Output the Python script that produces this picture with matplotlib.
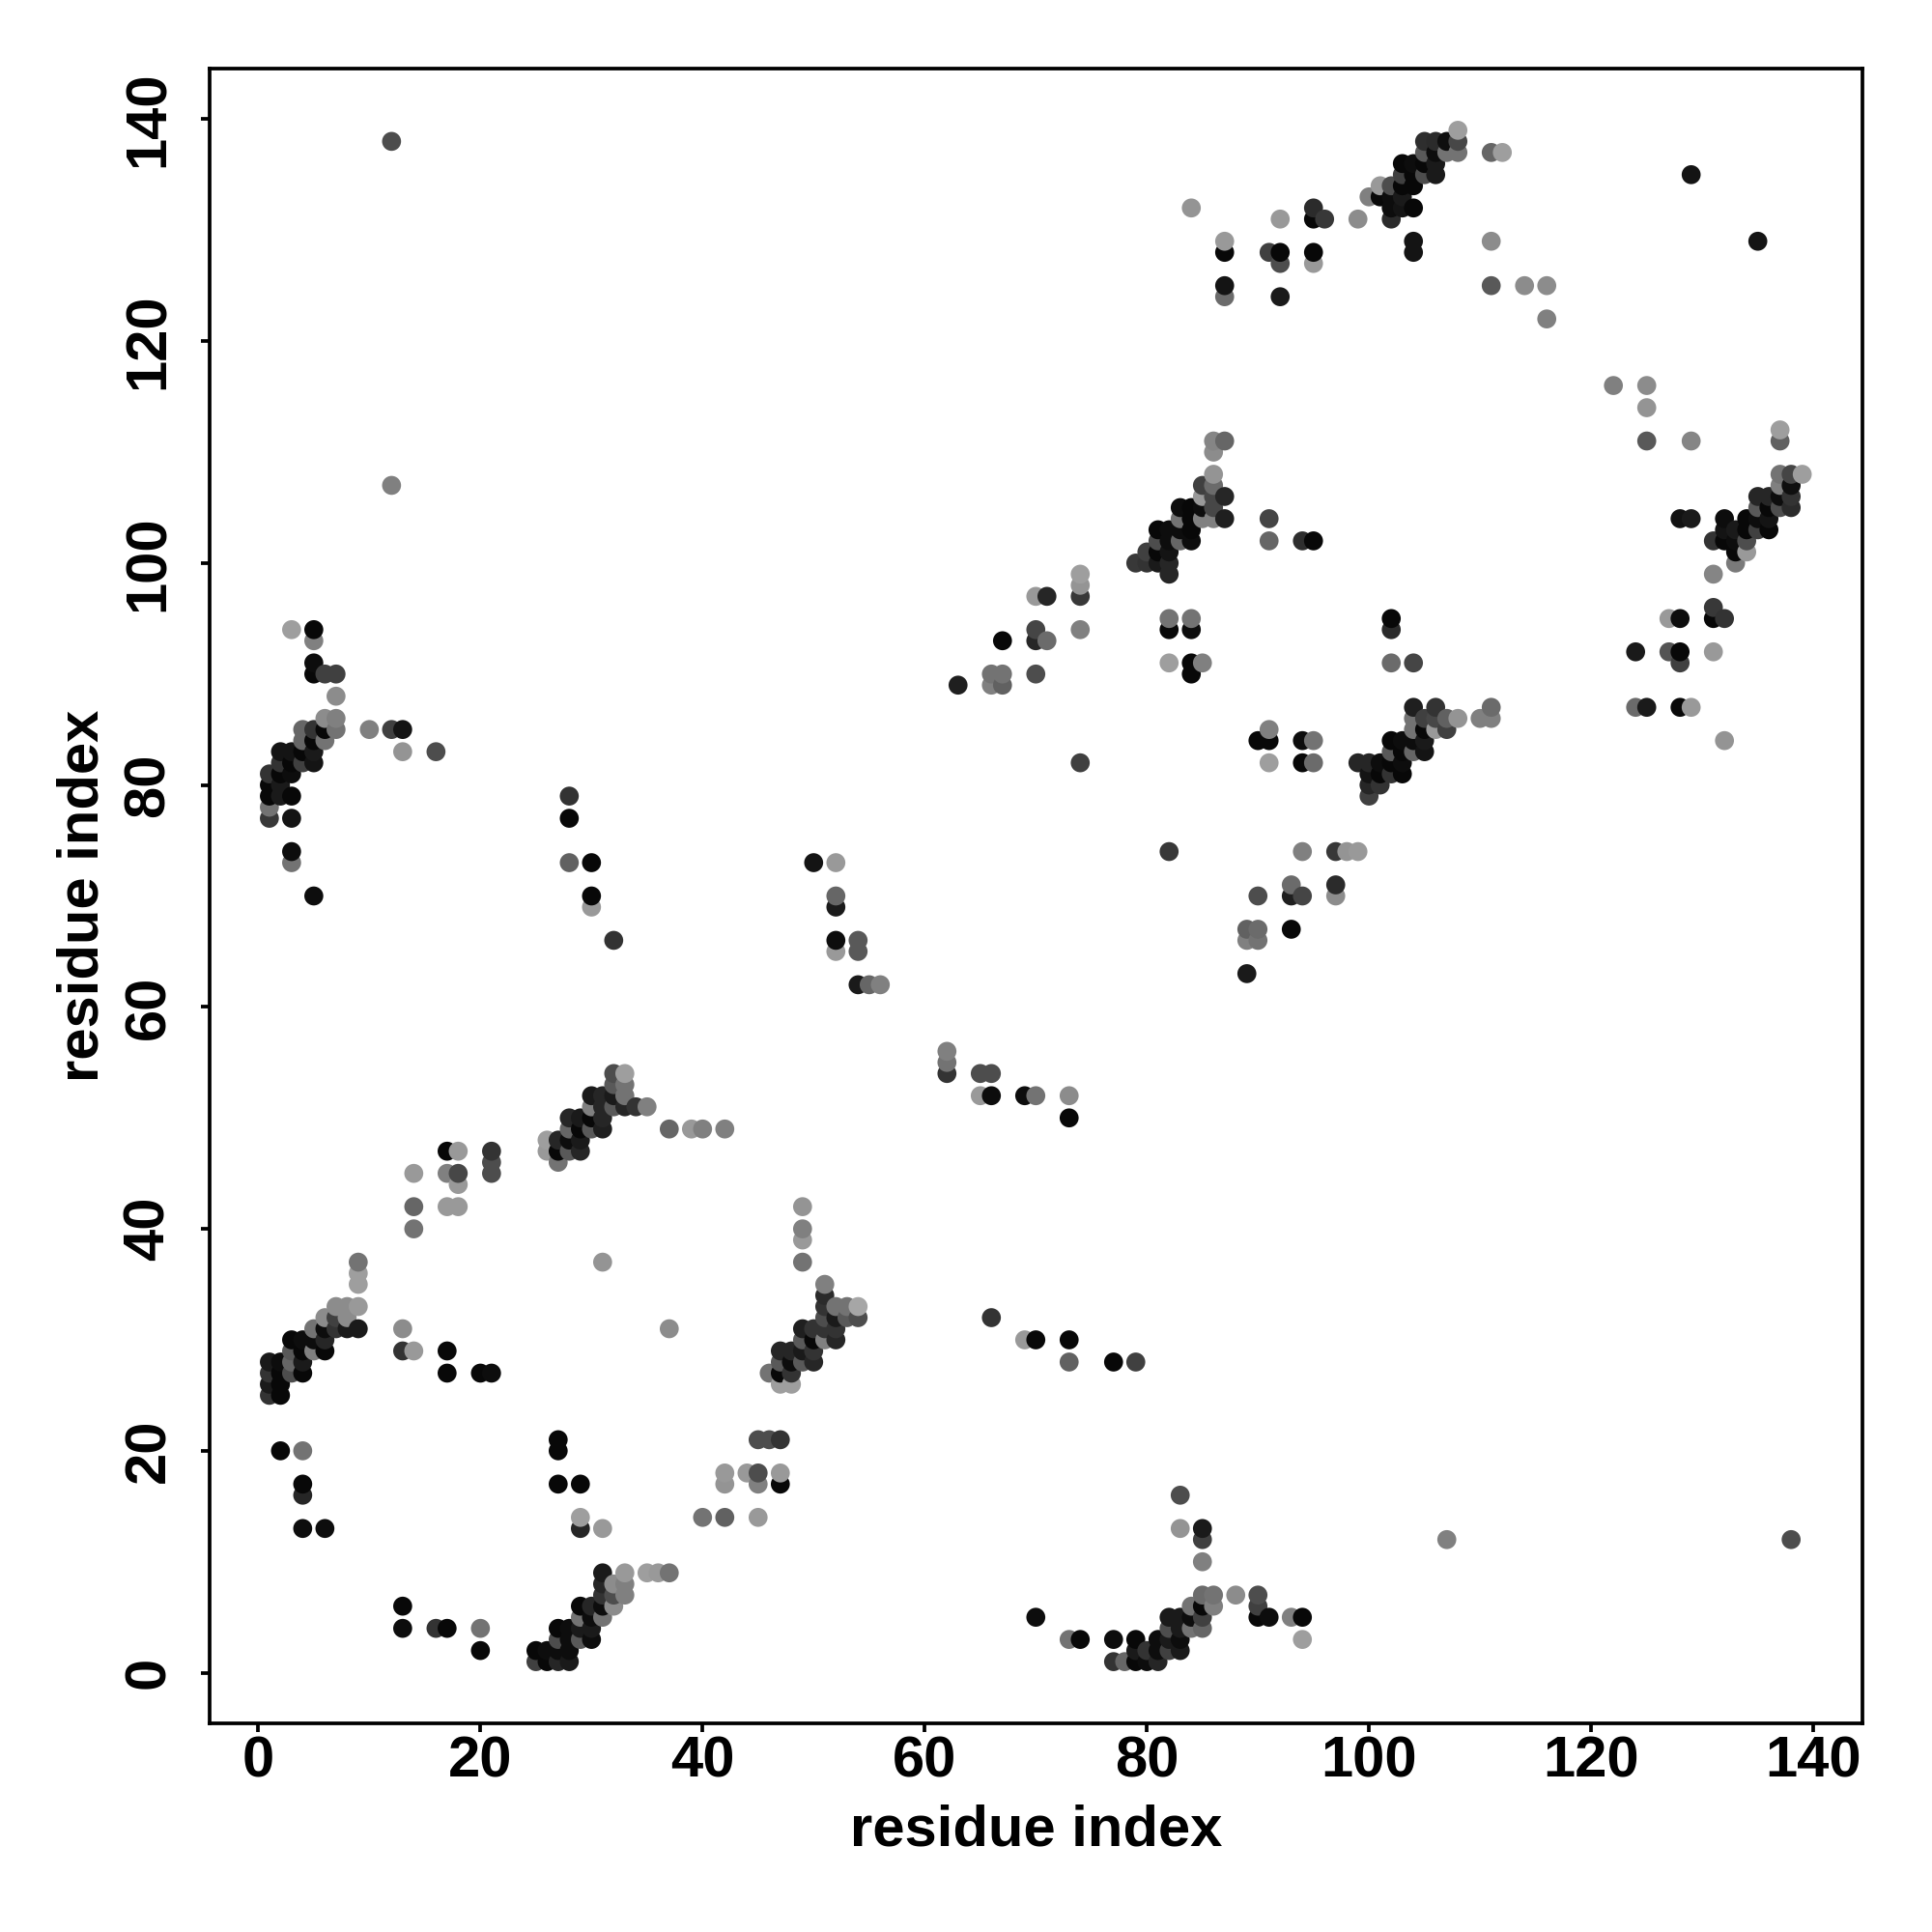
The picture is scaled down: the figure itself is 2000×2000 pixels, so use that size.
import numpy as np
import matplotlib
matplotlib.use("Agg")
import matplotlib.pyplot as plt

plt.rcParams["font.family"] = ["Liberation Sans", "DejaVu Sans"]

# contacts as (residue i, residue j, grey level)
low_left = [
    (1,25,.2),(2,25,.03),(1,26,.1),(2,26,.03),(1,27,.2),(2,27,.03),(3,27,.3),(4,27,.03),
    (1,28,.1),(2,28,.05),(3,28,.4),(4,28,.1),(3,29,.35),(4,29,.03),(5,29,.5),(6,29,.03),
    (3,30,.03),(4,30,.05),(5,30,.05),(6,30,.15),(5,31,.45),(6,31,.05),(7,31,.2),(8,31,.1),(9,31,.1),
    (6,32,.55),(7,32,.25),(8,32,.55),(7,33,.55),(8,33,.55),(9,33,.6),
    (9,35,.62),(9,36,.62),(9,37,.45),
    (2,20,.03),(4,20,.45),(4,17,.03),(4,16,.15),(4,13,.05),(6,13,.05),
    (13,6,.03),(13,4,.05),(16,4,.2),(17,4,.03),(20,4,.45),(20,2,.03),
    (13,31,.55),(13,29,.2),(14,29,.6),(17,29,.03),(17,27,.03),(20,27,.03),(21,27,.05),
    (14,45,.6),(14,42,.4),(14,40,.45),(17,47,.03),(18,47,.6),(17,45,.5),(18,45,.28),(18,44,.6),
    (17,42,.6),(18,42,.6),(21,47,.2),(21,46,.3),(21,45,.3),
    (27,21,.03),(27,20,.03),(27,17,.03),(29,17,.03),(29,14,.62),(29,13,.15),(31,13,.6),
    (37,31,.55),(31,37,.58),
]
low_strand = [
    (25,1,.25),(26,1,.03),(27,1,.15),(28,1,.1),(25,2,.03),(26,2,.05),(27,2,.05),(28,2,.05),
    (27,3,.3),(28,3,.05),(29,3,.35),(30,3,.05),(27,4,.03),(28,4,.05),(29,4,.1),(30,4,.1),
    (29,5,.45),(30,5,.05),(31,5,.45),(29,6,.03),(30,6,.15),(31,6,.05),(32,6,.55),
    (31,7,.2),(32,7,.3),(33,7,.5),(31,8,.15),(32,8,.55),(33,8,.5),(31,9,.1),(33,9,.6),
    (35,9,.62),(36,9,.6),(37,9,.45),
]
mid_strand = [
    (27,46,.45),(26,47,.6),(27,47,.03),(28,47,.35),(29,47,.15),(26,48,.62),(27,48,.15),(28,48,.05),(29,48,.1),
    (28,49,.4),(29,49,.03),(30,49,.35),(31,49,.12),(28,50,.15),(29,50,.1),(30,50,.03),(31,50,.15),
    (30,51,.5),(31,51,.15),(32,51,.35),(33,51,.15),(34,51,.2),(35,51,.5),
    (30,52,.1),(31,52,.15),(32,52,.1),(33,52,.45),(32,53,.35),(33,53,.45),(32,54,.3),(33,54,.62),
    (37,49,.4),(39,49,.6),(40,49,.5),(42,49,.5),
]
upper_left = [
    (3,94,.62),(5,94,.03),(5,93,.5),(5,91,.05),(5,90,.03),(6,90,.25),(7,90,.25),(7,88,.55),
    (6,86,.55),(7,86,.5),(4,85,.4),(5,85,.2),(6,85,.03),(7,85,.45),(10,85,.5),(12,85,.25),(13,85,.08),
    (4,84,.4),(5,84,.03),(6,84,.45),(2,83,.08),(3,83,.08),(4,83,.03),(5,83,.1),(13,83,.58),(16,83,.3),
    (2,82,.2),(3,82,.03),(4,82,.25),(5,82,.08),(1,81,.2),(2,81,.03),(3,81,.05),(1,80,.03),(2,80,.1),
    (1,79,.03),(2,79,.1),(3,79,.03),(1,78,.45),(1,77,.22),(3,77,.08),(3,74,.05),(3,73,.45),(5,70,.05),
    (28,79,.2),(28,77,.03),(28,73,.38),(30,73,.03),(30,70,.03),(30,69,.6),(32,66,.2),
    (12,138,.3),(12,107,.5),
]
centre = [
    (50,73,.08),(52,73,.6),(52,70,.4),(52,69,.1),(52,66,.05),(52,65,.6),(54,66,.35),(54,65,.35),
    (54,62,.1),(55,62,.4),(56,62,.5),(62,56,.5),(62,55,.45),(62,54,.2),(65,54,.3),(66,54,.3),
    (65,52,.6),(66,52,.05),(69,52,.05),(70,52,.45),(73,52,.55),(73,50,.03),
]
lower_mid = [
    (49,42,.58),(49,40,.5),(49,39,.6),(49,37,.45),(51,35,.5),(51,34,.17),(51,33,.2),(52,33,.45),(53,33,.45),(54,33,.65),
    (51,32,.3),(52,32,.1),(53,32,.35),(54,32,.3),(49,31,.12),(50,31,.2),(51,31,.2),(52,31,.2),
    (49,30,.35),(50,30,.03),(51,30,.5),(52,30,.15),(47,29,.15),(48,29,.15),(49,29,.1),(50,29,.2),
    (47,28,.35),(48,28,.05),(49,28,.35),(50,28,.15),(46,27,.45),(47,27,.03),(48,27,.2),(47,26,.62),(48,26,.62),
    (45,21,.3),(46,21,.3),(47,21,.2),(42,18,.6),(44,18,.6),(45,18,.3),(47,18,.6),(42,17,.58),(45,17,.5),(47,17,.03),
    (40,14,.45),(42,14,.38),(45,14,.6),
    (66,32,.2),(69,30,.6),(70,30,.03),(73,30,.03),(73,28,.38),(77,28,.03),(79,28,.25),
]
low_right = [
    (83,16,.3),(83,13,.58),(85,13,.1),(85,12,.25),(85,10,.5),(85,7,.42),(86,7,.45),(88,7,.55),(90,7,.3),
    (84,6,.45),(85,6,.03),(86,6,.5),(90,6,.25),(70,5,.05),(82,5,.1),(83,5,.1),(84,5,.05),(85,5,.25),
    (90,5,.03),(91,5,.05),(93,5,.5),(94,5,.03),(82,4,.3),(83,4,.1),(84,4,.45),(85,4,.4),
    (73,3,.45),(74,3,.03),(77,3,.05),(79,3,.03),(81,3,.05),(82,3,.1),(83,3,.05),(94,3,.62),
    (79,2,.1),(80,2,.2),(81,2,.05),(82,2,.25),(83,2,.1),(77,1,.2),(78,1,.4),(79,1,.03),(80,1,.05),(81,1,.15),
    (107,12,.5),(138,12,.3),
]
upper_mid = [
    (63,89,.12),(66,90,.45),(67,90,.45),(66,89,.5),(67,89,.38),(70,90,.3),(67,93,.03),(70,94,.27),(70,93,.15),(71,93,.42),
    (74,94,.5),(70,97,.6),(71,97,.15),(74,97,.22),(74,98,.58),(74,99,.62),
    (79,100,.22),(80,100,.2),(81,100,.1),(82,100,.15),(82,99,.15),(80,101,.25),(81,101,.03),(82,101,.08),
    (81,102,.3),(82,102,.05),(83,102,.4),(84,102,.05),(81,103,.03),(82,103,.05),(83,103,.05),(84,103,.03),
    (83,104,.45),(84,104,.03),(85,104,.5),(86,104,.5),(87,104,.12),(83,105,.05),(84,105,.03),(85,105,.05),(86,105,.28),
    (85,106,.6),(86,106,.28),(87,106,.15),(85,107,.25),(86,107,.42),(86,108,.58),(86,110,.55),(86,111,.52),(87,111,.4),
    (82,95,.45),(84,95,.45),(82,94,.03),(84,94,.05),(82,91,.62),(84,91,.03),(85,91,.5),(84,90,.03),
    (91,104,.27),(91,102,.4),(94,102,.18),(95,102,.03),
    (74,82,.25),(82,74,.22),
]
right_mid = [
    (91,85,.5),(90,84,.03),(91,84,.03),(94,84,.05),(95,84,.45),(91,82,.62),(94,82,.03),(95,82,.42),
    (94,74,.5),(97,74,.22),(98,74,.58),(99,74,.6),(93,71,.42),(97,71,.17),(90,70,.3),(93,70,.12),(94,70,.27),(97,70,.55),
    (89,67,.38),(90,67,.42),(93,67,.03),(89,66,.5),(90,66,.45),(89,63,.1),
    (102,95,.03),(102,94,.17),(102,91,.42),(104,91,.27),
    (104,87,.12),(106,87,.2),(111,87,.42),(104,86,.45),(105,86,.25),(106,86,.28),(107,86,.38),(108,86,.58),(110,86,.5),(111,86,.5),
    (104,85,.45),(105,85,.03),(106,85,.6),(107,85,.25),(102,84,.03),(103,84,.05),(104,84,.05),(105,84,.1),
    (102,83,.35),(103,83,.03),(104,83,.4),(105,83,.08),(99,82,.15),(100,82,.15),(101,82,.05),(102,82,.03),(103,82,.05),
    (100,81,.08),(101,81,.03),(102,81,.2),(103,81,.03),(100,80,.15),(101,80,.2),(100,79,.25),
]
top_strand = [
    (108,139,.62),(105,138,.18),(106,138,.17),(107,138,.06),(108,138,.28),(105,137,.35),(106,137,.05),(107,137,.45),(108,137,.45),
    (111,137,.4),(112,137,.62),(103,136,.03),(104,136,.05),(105,136,.03),(106,136,.1),(103,135,.25),(104,135,.03),(105,135,.3),(106,135,.1),
    (101,134,.6),(102,134,.3),(103,134,.03),(104,134,.03),(100,133,.5),(101,133,.03),(102,133,.05),(103,133,.1),
    (102,132,.05),(103,132,.08),(104,132,.03),(102,131,.17),(99,131,.55),(95,132,.17),(95,131,.03),(96,131,.22),(92,131,.6),
    (87,129,.6),(104,129,.08),(111,129,.55),(87,128,.03),(91,128,.25),(92,128,.03),(95,128,.03),(104,128,.08),
    (92,127,.3),(95,127,.6),(87,125,.08),(111,125,.35),(114,125,.55),(116,125,.55),(87,124,.42),(92,124,.1),(116,122,.5),
    (84,132,.58),(129,135,.08),(135,129,.08),
]
far_right = [
    (122,116,.5),(125,116,.55),(125,114,.58),(125,111,.35),(129,111,.52),(137,111,.38),(137,112,.62),
    (137,108,.45),(138,108,.27),(139,108,.62),(137,107,.5),(138,107,.06),(135,106,.15),(136,106,.15),(137,106,.05),(138,106,.2),
    (135,105,.35),(136,105,.03),(137,105,.3),(138,105,.17),(128,104,.07),(129,104,.1),(132,104,.05),(134,104,.03),(135,104,.05),(136,104,.08),
    (132,103,.08),(133,103,.1),(134,103,.03),(135,103,.25),(136,103,.03),(131,102,.2),(132,102,.03),(133,102,.05),(134,102,.3),
    (133,101,.03),(134,101,.6),(133,100,.48),(131,99,.52),(131,96,.22),(127,95,.6),(128,95,.05),(131,95,.03),(132,95,.2),
    (124,92,.1),(127,92,.33),(128,92,.03),(131,92,.6),(128,91,.25),(124,87,.42),(125,87,.1),(128,87,.03),(129,87,.6),(132,84,.58),
]

tick_values = [0, 20, 40, 60, 80, 100, 120, 140]
axis_label = "residue index"


def main():
    contacts = np.array(low_left + low_strand + mid_strand + upper_left + centre
                        + lower_mid + low_right + upper_mid + right_mid
                        + top_strand + far_right)
    # points stack by i, then j
    order = np.lexsort((contacts[:, 1], contacts[:, 0]))
    contacts = contacts[order]

    fig = plt.figure(figsize=(10, 10), dpi=200)
    ax = fig.add_axes([217 / 2000, 216 / 2000, 1711 / 2000, 1713 / 2000])
    ax.scatter(contacts[:, 0], contacts[:, 1], s=50,
               c=[str(g) for g in contacts[:, 2]], linewidths=0, zorder=3)

    ax.set_xlim(-4.38, 144.42)
    ax.set_ylim(-4.56, 144.56)
    ax.set_xticks(tick_values)
    ax.set_yticks(tick_values)
    ax.tick_params(length=3.4, width=1.35, labelsize=21.5)
    ax.tick_params(axis="x", pad=1.0)
    ax.tick_params(axis="y", pad=9.2)
    for lab in ax.get_xticklabels() + ax.get_yticklabels():
        lab.set_fontweight("bold")
    for lab in ax.get_yticklabels():
        lab.set_rotation(90)
        lab.set_va("center")
    for spine in ax.spines.values():
        spine.set_linewidth(1.35)

    ax.set_xlabel(axis_label, fontsize=21.5, fontweight="bold")
    ax.set_ylabel(axis_label, fontsize=21.5, fontweight="bold")
    ax.xaxis.set_label_coords(0.5, -0.0485, transform=ax.transAxes)
    ax.yaxis.set_label_coords(-0.0605, 0.5, transform=ax.transAxes)

    fig.savefig("out.png", dpi=200, facecolor="white")


if __name__ == "__main__":
    main()
